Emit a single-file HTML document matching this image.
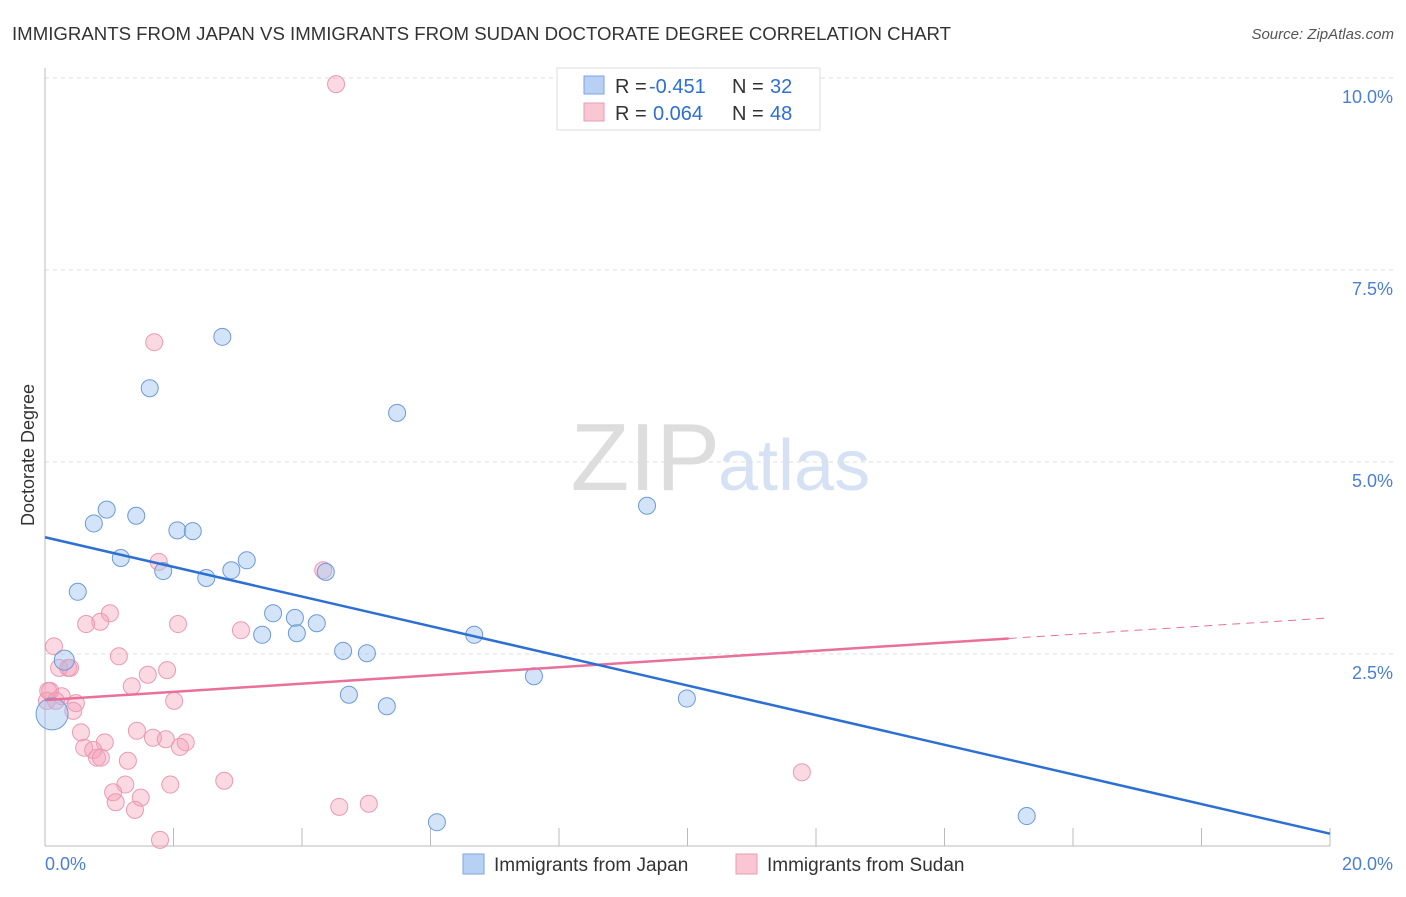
<!DOCTYPE html>
<html><head><meta charset="utf-8"><style>
body{margin:0;background:#fff;font-family:"Liberation Sans",sans-serif}
svg text{font-family:"Liberation Sans",sans-serif}
</style></head><body>
<svg width="1406" height="892" xmlns="http://www.w3.org/2000/svg">
<text x="12" y="40" font-size="18" fill="#333" textLength="939" lengthAdjust="spacingAndGlyphs">IMMIGRANTS FROM JAPAN VS IMMIGRANTS FROM SUDAN DOCTORATE DEGREE CORRELATION CHART</text>
<text x="1394" y="39" font-size="15" fill="#555" text-anchor="end" font-style="italic">Source: ZipAtlas.com</text>
<text x="720" y="490" font-size="96" fill="#ddd" text-anchor="end" font-family="Liberation Serif">ZIP</text>
<text x="718" y="490" font-size="72" fill="#d6e2f4">atlas</text>
<g id="grid"></g>
<g id="axes"></g>
<g id="marks"></g>
<text transform="translate(34,455) rotate(-90)" font-size="18" fill="#333" text-anchor="middle">Doctorate Degree</text>
<g>
<rect x="557" y="68" width="263" height="62" fill="#fff" stroke="#ddd"/>
<rect x="584" y="76" width="20" height="18" fill="#b8d0f3" stroke="#7aa5e0"/>
<rect x="584" y="103" width="20" height="18" fill="#f9c6d4" stroke="#eb99b2"/>
<text x="615" y="93" font-size="20" fill="#333">R =</text>
<text x="649" y="93" font-size="20" fill="#2d6fd3">-0.451</text>
<text x="732" y="93" font-size="20" fill="#333">N =</text>
<text x="770" y="93" font-size="20" fill="#2d6fd3">32</text>
<text x="615" y="120" font-size="20" fill="#333">R =</text>
<text x="653" y="120" font-size="20" fill="#2d6fd3">0.064</text>
<text x="732" y="120" font-size="20" fill="#333">N =</text>
<text x="770" y="120" font-size="20" fill="#2d6fd3">48</text>
</g>
<g>
<rect x="463" y="854" width="21" height="20" fill="#b8d0f3" stroke="#7aa5e0"/>
<text x="494" y="871" font-size="19" fill="#333">Immigrants from Japan</text>
<rect x="736" y="854" width="21" height="20" fill="#f9c6d4" stroke="#eb99b2"/>
<text x="767" y="871" font-size="19" fill="#333">Immigrants from Sudan</text>
</g>
</svg>
<script>
const yTicks=[2.5,5.0,7.5,10.0];
const xTickLabels=["0.0%","20.0%"];
const japanX=[2.76,1.63,5.48,0.96,0.76,1.42,2.06,2.30,9.37,1.18,1.84,3.14,2.90,2.51,4.37,0.51,3.55,3.89,4.23,3.38,3.92,6.68,4.64,5.01,0.30,4.73,7.61,5.32,9.99,0.11,6.10,15.28];
const japanY=[6.63,5.96,5.64,4.38,4.20,4.30,4.11,4.10,4.43,3.75,3.58,3.72,3.59,3.49,3.57,3.31,3.03,2.97,2.90,2.75,2.77,2.75,2.54,2.51,2.42,1.97,2.21,1.82,1.92,1.72,0.31,0.39];
const japanR=[8.5,8.5,8.5,8.5,8.5,8.5,8.5,8.5,8.5,8.5,8.5,8.5,8.5,8.5,8.5,8.5,8.5,8.5,8.5,8.5,8.5,8.5,8.5,8.5,10,8.5,8.5,8.5,8.5,16,8.5,8.5];
const sudanX=[4.53,1.70,1.77,4.33,1.01,0.86,0.64,2.07,3.05,0.14,1.15,0.36,0.22,0.39,1.90,1.60,1.35,0.08,0.26,2.01,0.48,0.44,0.56,1.43,1.68,1.88,2.19,0.93,0.61,2.10,0.75,0.81,0.87,1.29,1.25,2.79,1.95,1.06,1.49,1.10,1.40,4.58,5.04,1.79,11.78,0.05,0.03,0.17];
const sudanY=[9.92,6.56,3.70,3.59,3.03,2.92,2.89,2.89,2.81,2.60,2.47,2.32,2.32,2.32,2.29,2.23,2.08,2.02,1.95,1.89,1.86,1.76,1.48,1.50,1.41,1.39,1.35,1.35,1.28,1.29,1.25,1.15,1.15,1.11,0.80,0.85,0.80,0.70,0.63,0.57,0.47,0.51,0.55,0.08,0.96,2.02,1.89,1.89];
const japanTrend=[4.02,0.16];
const sudanTrend=[1.90,2.97];
const sudanSolidEnd=15.0;
const NS="http://www.w3.org/2000/svg";
const X=v=>45+v*64.25, Y=v=>846-v*76.8;
function mk(t,a,p){const e=document.createElementNS(NS,t);for(const k in a)e.setAttribute(k,a[k]);document.getElementById(p).appendChild(e);return e;}
yTicks.forEach(t=>{
 const l=mk('line',{x1:45,x2:1394,y1:Y(t),y2:Y(t),stroke:'#ddd','stroke-dasharray':'4,4'},'grid');
 
 
 const tx=mk('text',{x:1393,y:Y(t)+25,'font-size':18,fill:'#4a7fd4','text-anchor':'end'},'grid');
 tx.textContent=t.toFixed(1)+'%';
 
 
});
const ax=mk('line',{x1:45,x2:45,y1:68,y2:846,stroke:'#bbb'},'axes');


const bx=mk('line',{x1:45,x2:1330,y1:846,y2:846,stroke:'#bbb'},'axes');


for(let i=1;i<=10;i++){const t=mk('line',{x1:X(i*2),x2:X(i*2),y1:828,y2:846,stroke:'#bbb'},'axes');
 
 }
xTickLabels.forEach((s,i)=>{const t=mk('text',{x:i?1393:45,y:870,'font-size':18,fill:'#4a7fd4','text-anchor':i?'end':'start'},'axes');t.textContent=s;
 
 });
sudanX.forEach((v,i)=>{const c=mk('circle',{cx:X(v),cy:Y(sudanY[i]),r:8.5,fill:'rgba(245,160,185,0.4)',stroke:'#eb99b2','stroke-width':1},'marks');
 
 });
japanX.forEach((v,i)=>{const c=mk('circle',{cx:X(v),cy:Y(japanY[i]),r:japanR[i],fill:'rgba(160,195,240,0.45)',stroke:'#6c9ad8','stroke-width':1},'marks');
 
 });
const sEndY=sudanTrend[0]+(sudanTrend[1]-sudanTrend[0])*sudanSolidEnd/20;
let l=mk('line',{x1:X(0),y1:Y(sudanTrend[0]),x2:X(sudanSolidEnd),y2:Y(sEndY),stroke:'#e8709a','stroke-width':2.5},'marks');


l=mk('line',{x1:X(sudanSolidEnd),y1:Y(sEndY),x2:X(20),y2:Y(sudanTrend[1]),stroke:'#e8709a','stroke-width':1,'stroke-dasharray':'8,6'},'marks');


l=mk('line',{x1:X(0),y1:Y(japanTrend[0]),x2:X(20),y2:Y(japanTrend[1]),stroke:'#2d6fd3','stroke-width':2.5},'marks');


</script>
</body></html>
